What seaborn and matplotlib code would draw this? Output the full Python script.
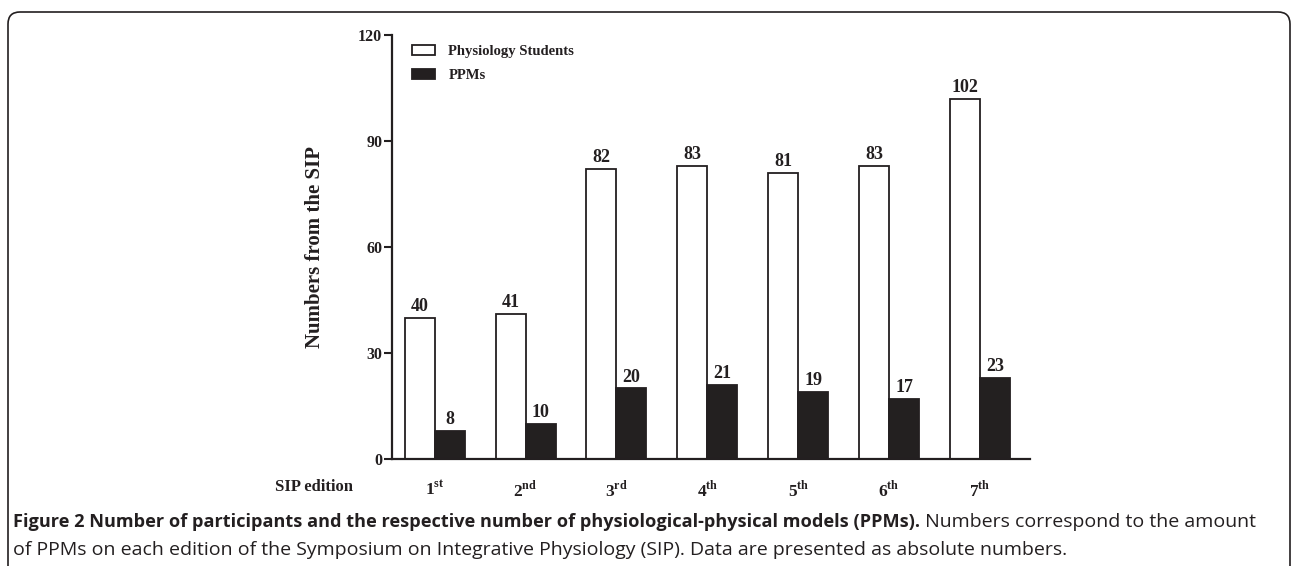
import pandas as pd
import seaborn as sns
import matplotlib.pyplot as plt
from matplotlib.patches import Patch, FancyBboxPatch

# dados
edicoes = ['1st', '2nd', '3rd', '4th', '5th', '6th', '7th']
rotulos = [r'1$^{\mathbf{st}}$', r'2$^{\mathbf{nd}}$', r'3$^{\mathbf{rd}}$', r'4$^{\mathbf{th}}$',
           r'5$^{\mathbf{th}}$', r'6$^{\mathbf{th}}$', r'7$^{\mathbf{th}}$']
estudantes = [40, 41, 82, 83, 81, 83, 102]
ppms = [8, 10, 20, 21, 19, 17, 23]
grupos = ['Physiology Students', 'PPMs']

df = pd.DataFrame({
    'edicao': edicoes * 2,
    'grupo': [grupos[0]] * len(edicoes) + [grupos[1]] * len(edicoes),
    'valor': estudantes + ppms,
})

sns.set_style('ticks')
plt.rcParams['font.family'] = ['Liberation Serif', 'DejaVu Serif']
plt.rcParams['mathtext.fontset'] = 'custom'
plt.rcParams['mathtext.rm'] = 'Liberation Serif:bold'
plt.rcParams['mathtext.bf'] = 'Liberation Serif:bold'

ESCURO = '#231f20'

fig = plt.figure(figsize=(12.92, 5.66), dpi=100)
ax = fig.add_axes([392 / 1292, 107 / 566, 638 / 1292, 424 / 566])

sns.barplot(data=df, x='edicao', y='valor', hue='grupo', hue_order=grupos,
            palette={grupos[0]: 'white', grupos[1]: ESCURO}, width=0.66,
            edgecolor=ESCURO, linewidth=1.3, errorbar=None, legend=False, ax=ax)

for c in ax.containers:
    ax.bar_label(c, padding=2, fontsize=13, fontweight='bold', color=ESCURO)

ax.set_xlim(-0.47, 6.55)
ax.set_ylim(0, 120)
ax.set_yticks([0, 30, 60, 90, 120])
ax.set_xticks(range(len(edicoes)))
ax.set_xticklabels(rotulos)
ax.set_xlabel('')
ax.set_ylabel('Numbers from the SIP', fontsize=15, fontweight='bold', color=ESCURO)
ax.yaxis.set_label_coords(-0.105, 0.5)
sns.despine(ax=ax)
for s in ['left', 'bottom']:
    ax.spines[s].set_linewidth(1.6)
    ax.spines[s].set_color(ESCURO)
ax.tick_params(axis='y', length=6, width=1.5, pad=1, labelsize=11.5, colors=ESCURO)
ax.tick_params(axis='x', length=0, pad=15, labelsize=12.5, colors=ESCURO)
for t in ax.get_yticklabels() + ax.get_xticklabels():
    t.set_fontweight('bold')

fig.text(314 / 1292, 1 - 487 / 566, 'SIP edition', fontsize=12, fontweight='bold',
         color=ESCURO, ha='center', va='center')

alcas = [Patch(facecolor='white', edgecolor=ESCURO, linewidth=1.3),
         Patch(facecolor=ESCURO, edgecolor=ESCURO, linewidth=1.3)]
ax.legend(alcas, grupos, loc='upper left', bbox_to_anchor=(0.031, 0.976), frameon=False,
          prop={'weight': 'bold', 'size': 10.5}, handlelength=1.6, handleheight=0.6,
          handletextpad=0.9, labelspacing=0.75, borderaxespad=0, borderpad=0,
          labelcolor=ESCURO)

# moldura arredondada em volta da figura
moldura = FancyBboxPatch((8, -30), 1282, 584, boxstyle='round,pad=0,rounding_size=12',
                         transform=None, facecolor='none', edgecolor=ESCURO, linewidth=1.2)
fig.add_artist(moldura)

# legenda da figura (caption)
negrito = 'Figure 2 Number of participants and the respective number of physiological-physical models (PPMs).'
resto1 = ' Numbers correspond to the amount'
linha2 = 'of PPMs on each edition of the Symposium on Integrative Physiology (SIP). Data are presented as absolute numbers.'

fonte_cap = ['Open Sans', 'DejaVu Sans']
r = fig.canvas.get_renderer()
t_b = fig.text(13 / 1292, 1 - 522 / 566, negrito, fontsize=12, fontweight='bold',
               family=fonte_cap, color=ESCURO, va='center')
t_2 = fig.text(13 / 1292, 1 - 550 / 566, linha2, fontsize=12, family=fonte_cap,
               color=ESCURO, va='center')
# ajusta o tamanho para bater com a largura do original
t_b.set_fontsize(12 * 902 / t_b.get_window_extent(r).width)
t_2.set_fontsize(12 * 1046 / t_2.get_window_extent(r).width)
x_fim = t_b.get_window_extent(r).x1
t_1 = fig.text(x_fim / 1292, 1 - 522 / 566, resto1, fontsize=t_2.get_fontsize(),
               family=fonte_cap, color=ESCURO, va='center')

fig.savefig('out.png', dpi=100)
